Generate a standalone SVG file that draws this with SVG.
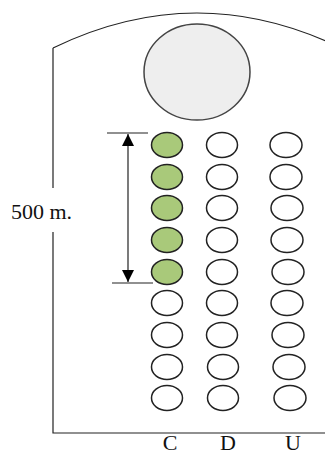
<svg xmlns="http://www.w3.org/2000/svg" width="325" height="455" viewBox="0 0 325 455">
<style>
.o{fill:#fff;stroke:#222;stroke-width:1.5}
.g{fill:#a9c97a;stroke:#222;stroke-width:1.5}
.l{stroke:#222;stroke-width:1.2;fill:none}
text{font-family:"Liberation Serif","Times New Roman",serif;font-size:22px;fill:#111}
</style>
<defs>
<marker id="ah" viewBox="0 0 12 12" refX="12" refY="6" markerWidth="12" markerHeight="12" markerUnits="userSpaceOnUse" orient="auto-start-reverse"><path d="M0,0 L12,6 L0,12 Z" fill="#000"/></marker>
</defs>
<g id="frame">
<path class="l" d="M53,48 Q197,-22 341,48"/>
<path class="l" d="M53,48 V188 M53,232 V433 H325"/>
</g>
<g id="big"><ellipse cx="197" cy="72" rx="53" ry="48" fill="#eeeeee" stroke="#444" stroke-width="1.5"/></g>
<g id="colC">
<ellipse class="g" cx="167" cy="145" rx="15.5" ry="12.5"/>
<ellipse class="g" cx="167" cy="177" rx="15.5" ry="12.5"/>
<ellipse class="g" cx="167" cy="208" rx="15.5" ry="12.5"/>
<ellipse class="g" cx="167" cy="240" rx="15.5" ry="12.5"/>
<ellipse class="g" cx="167" cy="272" rx="15.5" ry="12.5"/>
<ellipse class="o" cx="167" cy="303" rx="15.5" ry="12.5"/>
<ellipse class="o" cx="167" cy="335" rx="15.5" ry="12.5"/>
<ellipse class="o" cx="167" cy="367" rx="15.5" ry="12.5"/>
<ellipse class="o" cx="167" cy="398" rx="15.5" ry="12.5"/>
</g>
<g id="colD">
<ellipse class="o" cx="222" cy="145" rx="15.5" ry="12.5"/>
<ellipse class="o" cx="222" cy="177" rx="15.5" ry="12.5"/>
<ellipse class="o" cx="222" cy="208" rx="15.5" ry="12.5"/>
<ellipse class="o" cx="222" cy="240" rx="15.5" ry="12.5"/>
<ellipse class="o" cx="222" cy="272" rx="15.5" ry="12.5"/>
<ellipse class="o" cx="222" cy="303" rx="15.5" ry="12.5"/>
<ellipse class="o" cx="222" cy="335" rx="15.5" ry="12.5"/>
<ellipse class="o" cx="223" cy="367" rx="15.5" ry="12.5"/>
<ellipse class="o" cx="223" cy="398" rx="15.5" ry="12.5"/>
</g>
<g id="colU">
<ellipse class="o" cx="286" cy="145" rx="16" ry="12.5"/>
<ellipse class="o" cx="286" cy="177" rx="16" ry="12.5"/>
<ellipse class="o" cx="287" cy="208" rx="16" ry="12.5"/>
<ellipse class="o" cx="287" cy="240" rx="16" ry="12.5"/>
<ellipse class="o" cx="288" cy="272" rx="16" ry="12.5"/>
<ellipse class="o" cx="287" cy="303" rx="16" ry="12.5"/>
<ellipse class="o" cx="288" cy="335" rx="16" ry="12.5"/>
<ellipse class="o" cx="289" cy="367" rx="16" ry="12.5"/>
<ellipse class="o" cx="290" cy="398" rx="16" ry="12.5"/>
</g>
<g id="dimension">
<line class="l" x1="107" y1="133" x2="148" y2="133"/>
<line class="l" x1="112" y1="283" x2="153" y2="283"/>
<line class="l" x1="128" y1="134" x2="128" y2="282" marker-start="url(#ah)" marker-end="url(#ah)"/>
</g>
<g id="labels">
<text x="11" y="219">500 m.</text>
<text x="170" y="450" text-anchor="middle">C</text>
<text x="228" y="450" text-anchor="middle">D</text>
<text x="293" y="450" text-anchor="middle">U</text>
</g>
</svg>
